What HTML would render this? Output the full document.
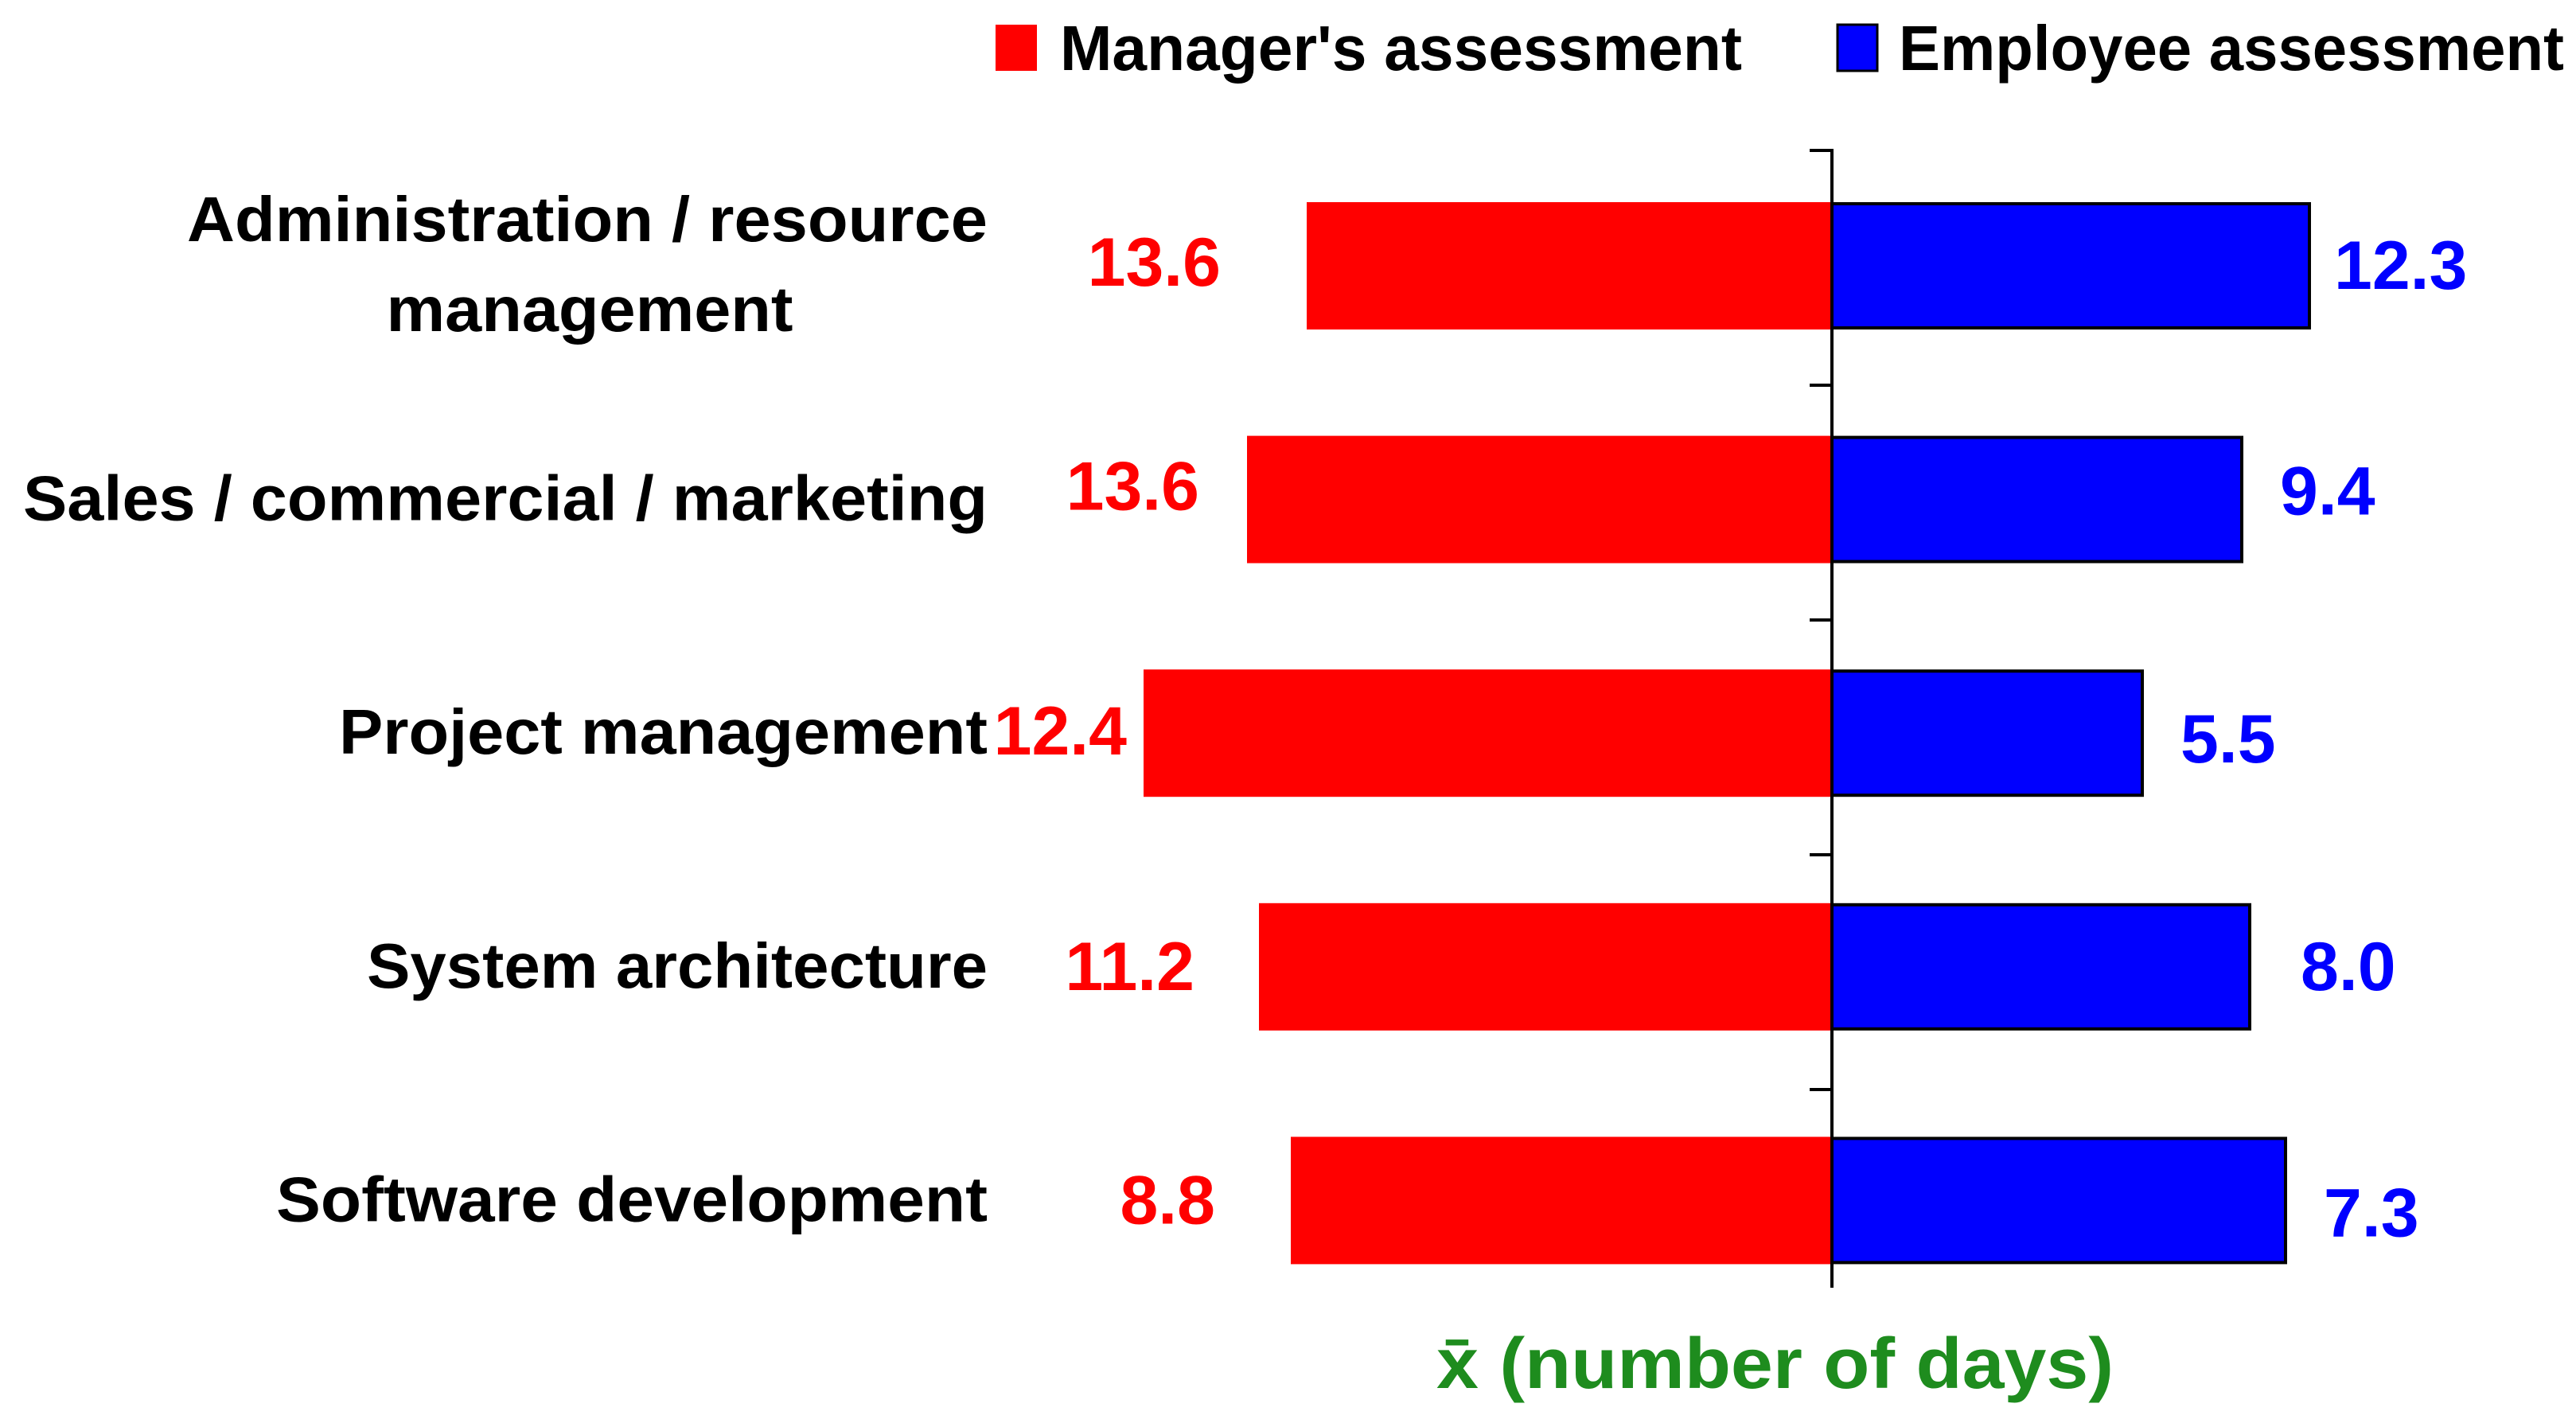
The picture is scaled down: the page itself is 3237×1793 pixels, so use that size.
<!DOCTYPE html>
<html><head><meta charset="utf-8">
<style>
html,body{margin:0;padding:0;background:#fff;}
svg{display:block;}
text{font-family:"Liberation Sans",sans-serif;font-weight:bold;}
</style></head>
<body>
<svg id="chart" width="3237" height="1793" viewBox="0 0 3237 1793" xmlns="http://www.w3.org/2000/svg">
  <g>
    <rect x="1251" y="31" width="52" height="58" fill="#ff0000"/>
    <text x="1332" y="88" font-size="80" textLength="857" lengthAdjust="spacingAndGlyphs" fill="#000">Manager's assessment</text>
    <rect x="2309" y="31" width="50" height="58" fill="#0000ff" stroke="#000" stroke-width="3"/>
    <text x="2386" y="88" font-size="80" textLength="836" lengthAdjust="spacingAndGlyphs" fill="#000">Employee assessment</text>
  </g>
  <g id="bars"></g>
  <g id="axis"></g>
  <text x="1805" y="1744" font-size="90" textLength="851" lengthAdjust="spacingAndGlyphs" fill="#1e8c1e">x̄ (number of days)</text>
</svg>
<script>
// Category names (top to bottom)
const categories = ["Administration / resource management", "Sales / commercial / marketing", "Project management", "System architecture", "Software development"];
// Printed values
const managerValues = [13.6, 13.6, 12.4, 11.2, 8.8];
const employeeValues = [12.3, 9.4, 5.5, 8.0, 7.3];
// Drawn bar lengths (the source chart's bars are not drawn to the printed values)
const managerBars = [13.2, 14.7, 17.3, 14.4, 13.6];
const employeeBars = [12.0, 10.3, 7.8, 10.5, 11.4];

const NS = "http://www.w3.org/2000/svg";
const svg = document.getElementById('chart');
const gBars = document.getElementById('bars');
const gAxis = document.getElementById('axis');
const zeroX = 2302, pxPerUnit = 50;
const axisTop = 187, axisBottom = 1618, tickStep = 295;
const barH = 160;
const redGap = [108, 60, 21, 81, 95];
const blueGap = [31, 48, 48, 64, 48];
const redDy = [-6, -18, -4, -2, -2];
const blueDy = [-2, -12, 6, -2, 14];
function xScale(v){ return v * pxPerUnit; }
function bandCenter(i){ return 334 + 293.6 * i; }
function mk(tag, attrs){ const e = document.createElementNS(NS, tag); for (const k in attrs) e.setAttribute(k, attrs[k]); return e; }

const labelWidths = [1006, 1212, 815, 780, 894];
categories.forEach((cat, i) => {
  const cy = bandCenter(i);
  const mw = xScale(managerBars[i]);
  const rb = mk('rect', {x: zeroX - mw, y: cy - barH/2, width: mw, height: barH, fill: '#ff0000'});
  
  
  gBars.appendChild(rb);
  const ew = xScale(employeeBars[i]);
  const bb = mk('rect', {x: zeroX, y: cy - barH/2 + 2, width: ew, height: barH - 4, fill: '#0000ff', stroke: '#000', 'stroke-width': 4});
  
  
  gBars.appendChild(bb);
  const rt = mk('text', {x: zeroX - mw - redGap[i], y: cy + 31 + redDy[i], 'font-size': 86, fill: '#ff0000', 'text-anchor': 'end'});
  rt.textContent = managerValues[i].toFixed(1);
  
  
  svg.appendChild(rt);
  const bt = mk('text', {x: zeroX + ew + blueGap[i], y: cy + 31 + blueDy[i], 'font-size': 86, fill: '#0000ff'});
  bt.textContent = employeeValues[i].toFixed(1);
  
  
  svg.appendChild(bt);
  if (i === 0) {
    const t1 = mk('text', {x: 1241, y: 303, 'font-size': 80, fill: '#000', 'text-anchor': 'end', textLength: 1006, lengthAdjust: 'spacingAndGlyphs'});
    t1.textContent = 'Administration / resource';
    
    
    svg.appendChild(t1);
    const t2 = mk('text', {x: 741, y: 416, 'font-size': 80, fill: '#000', 'text-anchor': 'middle', textLength: 511, lengthAdjust: 'spacingAndGlyphs'});
    t2.textContent = 'management';
    
    
    svg.appendChild(t2);
  } else {
    const t = mk('text', {x: 1241, y: cy + 26, 'font-size': 80, fill: '#000', 'text-anchor': 'end', textLength: labelWidths[i], lengthAdjust: 'spacingAndGlyphs'});
    t.textContent = cat;
    
    
    svg.appendChild(t);
  }
});
const ax = mk('line', {x1: zeroX, y1: axisTop, x2: zeroX, y2: axisBottom, stroke: '#000', 'stroke-width': 4});


gAxis.appendChild(ax);
for (let k = 0; k < categories.length; k++) {
  const ty = axisTop + tickStep * k + 2;
  const tk = mk('line', {x1: zeroX - 28, y1: ty, x2: zeroX, y2: ty, stroke: '#000', 'stroke-width': 4});
  
  
  gAxis.appendChild(tk);
}
</script>
</body></html>
